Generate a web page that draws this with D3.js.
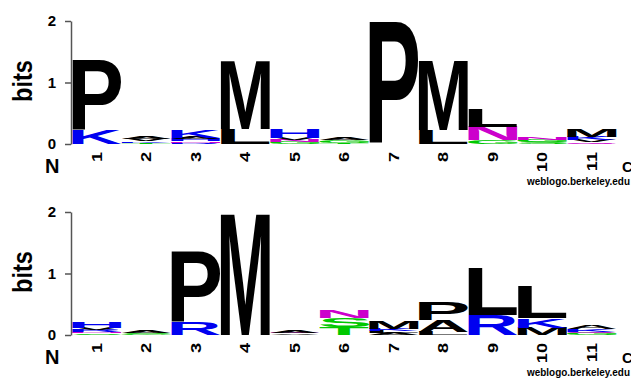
<!DOCTYPE html>
<html>
<head>
<meta charset="utf-8">
<script src="https://cdn.jsdelivr.net/npm/d3@7"></script>
<style>
    body { margin: 0; background: #fff; }
    svg { display: block; }
</style>
</head>
<body>
<svg id="chart" width="631" height="381"></svg>
<script>
    "use strict";

    // sequence positions along the logo
    var positions = ["1", "2", "3", "4", "5", "6", "7", "8", "9", "10", "11"];
    var bitTicks = [0, 1, 2];

    // letter stacks, bottom to top: [residue, height in bits]
    var topStacks = [
        [["K", 0.23], ["P", 1.14]],
        [["T", 0.02], ["K", 0.025], ["V", 0.03], ["A", 0.04]],
        [["R", 0.02], ["N", 0.025], ["H", 0.03], ["A", 0.03], ["K", 0.13]],
        [["L", 0.25], ["M", 1.12]],
        [["G", 0.03], ["N", 0.03], ["V", 0.04], ["H", 0.14]],
        [["T", 0.02], ["G", 0.04], ["A", 0.05]],
        [["P", 1.98]],
        [["L", 0.23], ["M", 1.14]],
        [["G", 0.06], ["N", 0.22], ["L", 0.29]],
        [["S", 0.03], ["G", 0.04], ["N", 0.04]],
        [["Q", 0.03], ["V", 0.03], ["K", 0.05], ["M", 0.12]]
    ];
    var bottomStacks = [
        [["S", 0.025], ["N", 0.025], ["R", 0.03], ["V", 0.03], ["H", 0.11]],
        [["G", 0.02], ["S", 0.02], ["A", 0.035]],
        [["R", 0.2], ["P", 1.16]],
        [["M", 1.99]],
        [["V", 0.02], ["Q", 0.02], ["A", 0.03]],
        [["T", 0.13], ["S", 0.15], ["N", 0.13]],
        [["A", 0.03], ["L", 0.03], ["K", 0.04], ["M", 0.12]],
        [["L", 0.05], ["A", 0.19], ["P", 0.29]],
        [["R", 0.33], ["L", 0.77]],
        [["M", 0.12], ["K", 0.15], ["L", 0.52]],
        [["G", 0.03], ["Q", 0.02], ["K", 0.04], ["A", 0.07]]
    ];

    var residueColors = [
        ["AVLIPWFM", "#000000"],
        ["KRH", "#0000f0"],
        ["GSTYC", "#00c800"],
        ["NQ", "#cc00cc"],
        ["DE", "#ff0000"]
    ];

    var FONT = "'Liberation Sans', Arial, Helvetica, sans-serif";
    var PANEL_GAP = 191;

    var svg = d3.select("#chart");

    var x = d3.scaleBand().domain(positions).range([72, 616.5]).padding(0);
    var y = d3.scaleLinear().domain([0, 2]).range([144, 21]);

    // tight ink box of a glyph, measured once on a canvas
    var ctx = document.createElement("canvas").getContext("2d");
    ctx.font = "bold 100px " + FONT;
    var inkCache = {};
    function ink(ch) {
        if (!inkCache[ch]) {
            var m = ctx.measureText(ch);
            inkCache[ch] = {
                left: -m.actualBoundingBoxLeft,
                top: -m.actualBoundingBoxAscent,
                w: m.actualBoundingBoxLeft + m.actualBoundingBoxRight,
                h: m.actualBoundingBoxAscent + m.actualBoundingBoxDescent
            };
        }
        return inkCache[ch];
    }

    function colorOf(ch) {
        var c = residueColors.find(function (d) { return d[0].indexOf(ch) >= 0; });
        return c ? c[1] : "#000";
    }

    function drawPanel(stacks, offset) {
        var g = svg.append("g").attr("transform", "translate(0," + offset + ")");

        var cols = g.append("g")
            .selectAll("g")
            .data(stacks)
            .enter()
            .append("g");

        cols.each(function (stack, i) {
            var base = 0;
            var items = stack.map(function (d) {
                var o = { ch: d[0], y0: base, y1: base + d[1], pos: positions[i] };
                base += d[1];
                return o;
            });

            d3.select(this)
                .selectAll("text")
                .data(items)
                .enter()
                .append("text")
                .text(function (d) { return d.ch; })
                .attr("font-family", FONT)
                .attr("font-weight", "bold")
                .attr("font-size", 100)
                .attr("fill", function (d) { return colorOf(d.ch); })
                .attr("transform", function (d) {
                    var b = ink(d.ch);
                    var sx = x.bandwidth() / b.w;
                    var sy = (y(d.y0) - y(d.y1)) / b.h;
                    return "translate(" + x(d.pos) + "," + y(d.y1) + ") scale(" + sx + "," + sy + ") translate(" + (-b.left) + "," + (-b.top) + ")";
                });
        });

        // bits axis
        var yAxis = d3.axisLeft(y)
            .tickValues(bitTicks)
            .tickSize(6)
            .tickSizeOuter(0)
            .tickPadding(9)
            .tickFormat(d3.format("d"));

        var ya = g.append("g")
            .attr("transform", "translate(71,0)")
            .call(yAxis);
        ya.selectAll("path, line").attr("stroke", "#555").attr("stroke-width", 1.5);
        ya.selectAll("text")
            .attr("fill", "#000")
            .attr("font-family", FONT)
            .attr("font-weight", "bold")
            .attr("font-size", 15);

        g.append("text")
            .attr("transform", "translate(32,81) rotate(-90) scale(0.84,1)")
            .attr("text-anchor", "middle")
            .attr("font-family", FONT)
            .attr("font-weight", "bold")
            .attr("font-size", 28)
            .text("bits");

        // position labels, rotated
        g.append("g")
            .selectAll("text")
            .data(positions)
            .enter()
            .append("text")
            .attr("transform", function (d) {
                return "translate(" + (x(d) + x.bandwidth() / 2) + ",152) rotate(-90) scale(1.3,1)";
            })
            .attr("text-anchor", "end")
            .attr("dy", "0.36em")
            .attr("font-family", FONT)
            .attr("font-weight", "bold")
            .attr("font-size", 14)
            .text(function (d) { return d; });

        g.append("text")
            .attr("x", 45).attr("y", 173)
            .attr("font-family", FONT).attr("font-weight", "bold").attr("font-size", 20)
            .text("N");

        g.append("text")
            .attr("x", 622).attr("y", 172)
            .attr("font-family", FONT).attr("font-weight", "bold").attr("font-size", 15)
            .text("C");

        g.append("text")
            .attr("x", 527).attr("y", 185)
            .attr("textLength", 103)
            .attr("lengthAdjust", "spacingAndGlyphs")
            .attr("font-family", FONT).attr("font-weight", "bold").attr("font-size", 10.5)
            .text("weblogo.berkeley.edu");
    }

    drawPanel(topStacks, 0);
    drawPanel(bottomStacks, PANEL_GAP);
</script>
</body>
</html>
